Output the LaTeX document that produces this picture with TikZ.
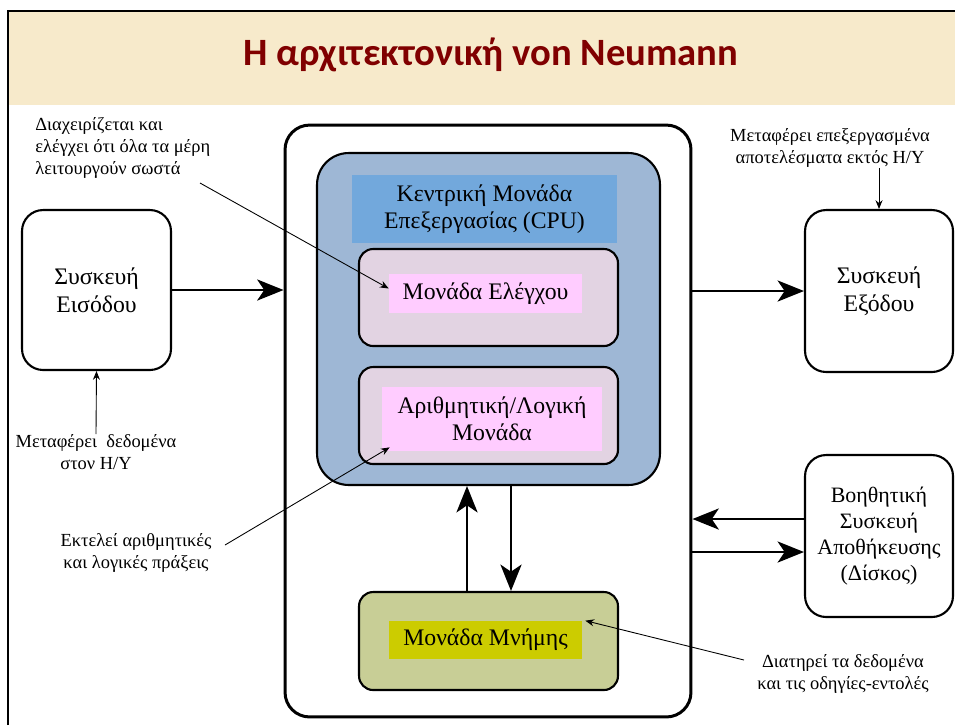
\documentclass[tikz,border=0pt]{standalone}
\usepackage{fontspec}
\setmainfont{Liberation Serif}
\newfontfamily\titlefont{Carlito}
\usetikzlibrary{arrows.meta}

\definecolor{bandbeige}{RGB}{247,234,203}
\definecolor{titlered}{RGB}{128,0,0}
\definecolor{cpublue}{RGB}{158,183,213}
\definecolor{cpulabelblue}{RGB}{114,168,220}
\definecolor{unitmauve}{RGB}{226,211,226}
\definecolor{labelpink}{RGB}{255,204,255}
\definecolor{memolive}{RGB}{200,206,150}
\definecolor{memyellow}{RGB}{204,204,0}

\begin{document}
\begin{tikzpicture}[x=0.02cm, y=-0.02cm,
    device/.style={draw, line width=1.2pt, rounded corners=12pt, fill=white, align=center,
      font=\fontsize{13.5}{16}\selectfont},
    unit/.style={draw, line width=1.2pt, rounded corners=8pt, minimum width=5.18cm, minimum height=1.94cm},
    tag/.style={align=center, inner sep=0pt, font=\fontsize{13.5}{15.3}\selectfont},
    note/.style={align=center, inner sep=0pt, font=\fontsize{10.5}{12.5}\selectfont},
    bigarrow/.style={line width=1.4pt, -{Stealth[length=15pt, width=12pt, inset=4pt]}},
    thinarrow/.style={line width=0.5pt, -{Stealth[length=5pt, width=4pt]}}]

  \useasboundingbox (0,0) rectangle (955,725);

  % Slide frame and title
  \fill[bandbeige] (8,11) rectangle (955,105);
  \draw[line width=1.6pt] (8,725) -- (8,11) -- (955,11);
  \node[font=\titlefont\bfseries\fontsize{22}{26}\selectfont, text=titlered] (title) at (491,55) {Η αρχιτεκτονική von Neumann};

  % Computer
  \node[draw, line width=1.7pt, rounded corners=14pt, minimum width=8.12cm, minimum height=11.84cm] (computer) at (488,421) {};
  \node[draw, line width=1.2pt, rounded corners=18pt, fill=cpublue, minimum width=6.86cm, minimum height=6.64cm] (cpu) at (488.5,319) {};
  \node[tag, fill=cpulabelblue, minimum width=5.3cm, minimum height=1.36cm] (cpulabel) at (484.5,209) {Κεντρική Μονάδα\\Επεξεργασίας (CPU)};

  % Control and arithmetic units
  \node[unit, fill=unitmauve] (ctrl) at (488.5,297.5) {};
  \node[tag, fill=labelpink, minimum width=3.86cm, minimum height=0.78cm] (ctrllabel) at (485.5,293.5) {Μονάδα Ελέγχου};
  \node[unit, fill=unitmauve] (alu) at (488.5,415.5) {};
  \node[tag, fill=labelpink, minimum width=4.4cm, minimum height=1.28cm] (alulabel) at (492,419) {Αριθμητική/Λογική\\Μονάδα};

  % Memory
  \node[unit, fill=memolive, minimum height=1.96cm] (mem) at (488.5,641) {};
  \node[tag, fill=memyellow, minimum width=3.86cm, minimum height=0.76cm] (memlabel) at (485.5,640) {Μονάδα Μνήμης};

  % Devices
  \node[device, minimum width=2.98cm, minimum height=3.2cm] (input) at (96.5,290) {Συσκευή\\Εισόδου};
  \node[device, minimum width=2.96cm, minimum height=3.24cm] (output) at (879,291) {Συσκευή\\Εξόδου};
  \node[device, minimum width=2.96cm, minimum height=3.24cm, font=\fontsize{12.5}{14.7}\selectfont] (storage) at (879,536) {Βοηθητική\\Συσκευή\\Αποθήκευσης\\(Δίσκος)};

  % Data paths
  \draw[bigarrow] (input.east) -- (input.east -| computer.west);
  \draw[bigarrow] (output.west -| computer.east) -- (output.west);
  \draw[bigarrow] ([yshift=0.34cm]storage.west) -- ([yshift=0.34cm]storage.west -| computer.east);
  \draw[bigarrow] ([yshift=-0.32cm]storage.west -| computer.east) -- ([yshift=-0.32cm]storage.west);
  \draw[bigarrow] ([xshift=-0.43cm]mem.north) -- ([xshift=-0.43cm]mem.north |- cpu.south);
  \draw[bigarrow] ([xshift=0.45cm]mem.north |- cpu.south) -- ([xshift=0.45cm]mem.north);

  % Notes
  \node[note, align=left, anchor=north west] (ctrlnote) at (35,117) {Διαχειρίζεται και\\ελέγχει ότι όλα τα μέρη\\λειτουργούν σωστά};
  \node[note] (innote) at (96,452) {Μεταφέρει\ \ δεδομένα\\στον H/Y};
  \node[note] (outnote) at (830,148) {Μεταφέρει επεξεργασμένα\\αποτελέσματα εκτός H/Y};
  \node[note] (alunote) at (136,553) {Εκτελεί αριθμητικές\\και λογικές πράξεις};
  \node[note] (memnote) at (843,674) {Διατηρεί τα δεδομένα\\και τις οδηγίες-εντολές};

  \coordinate (ctrlnote-tail) at (200,183);
  \coordinate (alunote-tail) at (225,545);
  \coordinate (memnote-tail) at (744,660);

  \draw[thinarrow] (ctrlnote-tail) -- ([yshift=0.1cm]ctrllabel.west);
  \draw[thinarrow] (innote.north) -- (input.south);
  \draw[thinarrow] (outnote.south -| output.north) -- (output.north);
  \draw[thinarrow] (alunote-tail) -- ([shift={(0.16cm,0.08cm)}]alulabel.south west);
  \draw[thinarrow] (memnote-tail) -- ([xshift=0.06cm]memlabel.north east);

\end{tikzpicture}
\end{document}
